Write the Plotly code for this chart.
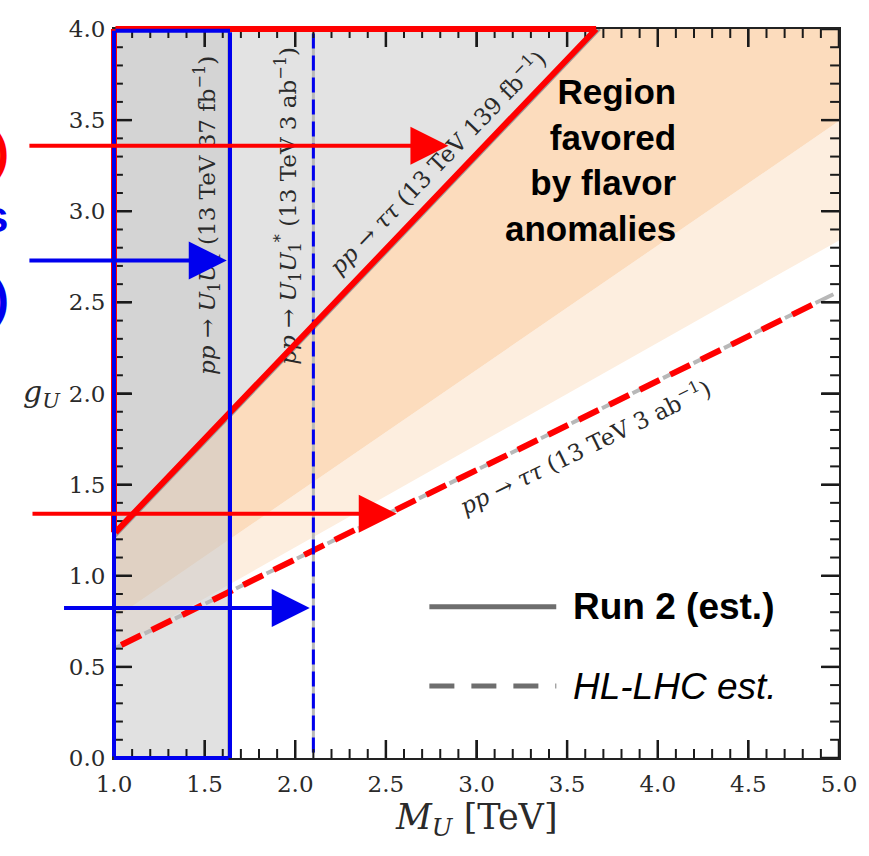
import plotly.graph_objects as go

# ---------------- data ----------------
x_range = [1.0, 5.0]
y_range = [0.0, 4.0]
x_major = [1.0, 1.5, 2.0, 2.5, 3.0, 3.5, 4.0, 4.5, 5.0]
y_major = [0.0, 0.5, 1.0, 1.5, 2.0, 2.5, 3.0, 3.5, 4.0]
minor_step = 0.1

# flavor-anomaly favoured bands (edges, straight lines in M_U)
band_M = [1.0, 5.0]
band_top_g = [4.0, 4.0]
band_dark_low_g = [0.764, 3.495]
band_light_low_g = [0.595, 2.84]

# pp -> tautau, Run 2 (139 fb-1) exclusion line
run2_tautau_M = [1.0, 3.66]
run2_tautau_g = [1.23, 4.0]
# pp -> tautau, HL-LHC (3 ab-1) projection
hl_tautau_M = [1.0, 5.0]
hl_tautau_g = [0.60, 2.56]
# red dashed highlight on the HL-LHC line
hl_highlight_M = [1.04, 4.9]
hl_highlight_g = [0.62, 2.51]

# pair production limits (vertical lines)
pair_run2_M = 1.64
pair_hl_M = 2.10
pair_hl_g = [0.03, 3.98]

# slide overlays: arrows  (colour, tail M, head M, g)
arrow_color = ["#ff0000", "#0000ee", "#ff0000", "#0000ee"]
arrow_tail_M = [0.525, 0.525, 0.542, 0.716]
arrow_head_M = [2.845, 1.622, 2.56, 2.08]
arrow_g = [3.36, 2.73, 1.34, 0.823]

# blue box around the pair-production (37 fb-1) region
blue_box_M = [1.0, 1.64]
blue_box_g = [0.0, 3.99]

# custom legend
legend_M = [2.74, 3.44]
legend_text_M = 3.521
legend_run2_g = 0.83
legend_hl_g = 0.395
legend_labels = ["<b>Run 2 (est.)</b>", "<i>HL-LHC est.</i>"]

# ---------------- layout geometry ----------------
W, H = 869, 856
ML, MR, MT, MB = 114, 22, 29, 98
px_per_x = (W - ML - MR) / (x_range[1] - x_range[0])
px_per_y = (H - MT - MB) / (y_range[1] - y_range[0])
major_len, minor_len = 18, 9

# ---------------- figure ----------------
fig = go.Figure()

def fill(xs, ys, color):
    fig.add_trace(go.Scatter(x=xs, y=ys, mode="lines", fill="toself", fillcolor=color,
                             line=dict(width=0), hoverinfo="skip", showlegend=False))

def line(xs, ys, color, width, dash="solid"):
    fig.add_trace(go.Scatter(x=xs, y=ys, mode="lines", line=dict(color=color, width=width, dash=dash),
                             hoverinfo="skip", showlegend=False))

# orange bands
fill([band_M[0], band_M[1], band_M[1], band_M[0]],
     [band_dark_low_g[0], band_dark_low_g[1], band_light_low_g[1], band_light_low_g[0]], "#fdeedf")
fill([band_M[0], band_M[1], band_M[1], band_M[0]],
     [band_top_g[0], band_top_g[1], band_dark_low_g[1], band_dark_low_g[0]], "#fcdcbd")
# excluded region above the Run 2 tautau line
fill([run2_tautau_M[0], run2_tautau_M[1], run2_tautau_M[0]],
     [run2_tautau_g[0], run2_tautau_g[1], run2_tautau_g[1]], "#e3e3e3")
# pair-production excluded region
fill([x_range[0], pair_run2_M, pair_run2_M, x_range[0]],
     [y_range[0], y_range[0], y_range[1], y_range[1]], "rgba(200,200,200,0.55)")

# gray physics lines
line([run2_tautau_M[0], run2_tautau_M[1] + 0.02], [run2_tautau_g[0] - 0.02, run2_tautau_g[1]], "#9a9a9a", 3)
line(hl_tautau_M, hl_tautau_g, "#b8b8b8", 4, "20px,14px")
line([pair_run2_M - 0.01, pair_run2_M - 0.01], y_range, "#b0b0b0", 2)
line([pair_hl_M, pair_hl_M], pair_hl_g, "#b8b8b8", 3)

# red dashed highlight / blue dashed highlight
line(hl_highlight_M, hl_highlight_g, "#ff0000", 6, "22px,12px")
line([pair_hl_M, pair_hl_M], pair_hl_g, "#0000ee", 3, "15px,7px")

# legend lines
line(legend_M, [legend_run2_g, legend_run2_g], "#6e6e6e", 5)
line(legend_M, [legend_hl_g, legend_hl_g], "#6e6e6e", 5, "25px,17px")

# inward ticks on all four sides (major every 0.5, minor every 0.1)
def frange(a, b, s):
    n = int(round((b - a) / s))
    return [round(a + i * s, 6) for i in range(n + 1)]

def tick_trace(xvals, yvals, length_px, width):
    dy = length_px / px_per_y
    dx = length_px / px_per_x
    for v in xvals:  # bottom and top
        line([v, v], [y_range[0], y_range[0] + dy], "#1a1a1a", width)
        line([v, v], [y_range[1], y_range[1] - dy], "#1a1a1a", width)
    for v in yvals:  # left and right
        line([x_range[0], x_range[0] + dx], [v, v], "#1a1a1a", width)
        line([x_range[1], x_range[1] - dx], [v, v], "#1a1a1a", width)

x_minor = [v for v in frange(x_range[0], x_range[1], minor_step) if v not in x_major]
y_minor = [v for v in frange(y_range[0], y_range[1], minor_step) if v not in y_major]
tick_trace(x_minor, y_minor, minor_len, 2)
tick_trace(x_major, y_major, major_len, 2.5)

ann = []
serif = "DejaVu Serif"
tcol = "#2a2a2a"

def txt(x, y, s, angle=0, size=23):
    ann.append(dict(x=x, y=y, xref="x", yref="y", text=s, showarrow=False, textangle=angle,
                    font=dict(family=serif, size=size, color=tcol)))

txt(1.513, 2.98, "<i>pp</i> → <i>U</i><sub>1</sub><i>U</i><sub>1</sub> (13 TeV 37 fb<sup>−1</sup>)", -90)
txt(1.96, 3.03, "<i>pp</i> → <i>U</i><sub>1</sub><i>U</i><sub>1</sub><sup>*</sup> (13 TeV 3 ab<sup>−1</sup>)", -90)
txt(2.78, 3.27, "<i>pp</i> → <i>ττ</i> (13 TeV 139 fb<sup>−1</sup>)", -46)
txt(3.60, 1.71, "<i>pp</i> → <i>ττ</i> (13 TeV 3 ab<sup>−1</sup>)", -26)

ann.append(dict(x=4.115, y=3.28, xref="x", yref="y", xanchor="right", align="right", showarrow=False,
                text="<b>Region<br>favored<br>by flavor<br>anomalies</b>",
                font=dict(family="Liberation Sans", size=35, color="#000000")))

for lab, gy in zip(legend_labels, [legend_run2_g, legend_hl_g]):
    ann.append(dict(x=legend_text_M, y=gy, xref="x", yref="y", xanchor="left", showarrow=False,
                    text=lab, font=dict(family="Liberation Sans", size=37, color="#000000")))

def seg(x0, y0, x1, y1, color, width):
    ann.append(dict(x=x1, y=y1, ax=x0, ay=y0, xref="x", yref="y", axref="x", ayref="y",
                    text="", showarrow=True, arrowhead=0, arrowwidth=width, arrowcolor=color))

# red triangle around Run 2 tautau exclusion
seg(run2_tautau_M[0], run2_tautau_g[0], run2_tautau_M[0], run2_tautau_g[1], "#ff0000", 6)
seg(run2_tautau_M[0], run2_tautau_g[1], run2_tautau_M[1], run2_tautau_g[1], "#ff0000", 6)
seg(run2_tautau_M[0], run2_tautau_g[0], run2_tautau_M[1], run2_tautau_g[1], "#ff0000", 6)

# blue box
bx0, bx1 = blue_box_M
by0, by1 = blue_box_g
seg(bx0, by0, bx0, by1, "#0000ee", 4)
seg(bx0, by1, bx1, by1, "#0000ee", 4)
seg(bx1, by1, bx1, by0, "#0000ee", 4)
seg(bx1, by0, bx0, by0, "#0000ee", 4)

# arrows
for c, t, h, g in zip(arrow_color, arrow_tail_M, arrow_head_M, arrow_g):
    ann.append(dict(x=h, y=g, ax=t, ay=g, xref="x", yref="y", axref="x", ayref="y",
                    text="", showarrow=True, arrowhead=2, arrowsize=1.9, arrowwidth=4, arrowcolor=c))

# cut-off slide glyphs at the left edge
def px2paper(p):
    return (p - ML) / (W - ML - MR)

ann.append(dict(x=px2paper(10), y=3.33, xref="paper", yref="y", xanchor="right", showarrow=False,
                text="<b>)</b>", font=dict(family="Liberation Sans", size=48, color="#ff0000")))
ann.append(dict(x=px2paper(9), y=2.97, xref="paper", yref="y", xanchor="right", showarrow=False,
                text="<b>s</b>", font=dict(family="Liberation Sans", size=44, color="#0000ee")))
ann.append(dict(x=px2paper(10), y=2.52, xref="paper", yref="y", xanchor="right", showarrow=False,
                text="<b>)</b>", font=dict(family="Liberation Sans", size=48, color="#0000ee")))

# axis titles
ann.append(dict(x=px2paper(20), y=2.0, xref="paper", yref="y", xanchor="left", showarrow=False,
                text="<i>g</i><sub><i>U</i></sub>", font=dict(family=serif, size=30, color=tcol)))
ann.append(dict(x=0.5, y=-0.085, xref="paper", yref="paper", showarrow=False, yanchor="middle",
                text="<i>M</i><sub><i>U</i></sub> [TeV]", font=dict(family=serif, size=35, color=tcol)))

axis_common = dict(showgrid=False, zeroline=False, showline=True, linecolor="#222222", linewidth=2,
                   mirror="ticks", ticks="inside", ticklen=major_len, tickwidth=2, tickcolor="#1a1a1a",
                   tickmode="array", tickformat=".1f", layer="above traces",
                   tickfont=dict(family=serif, size=23, color=tcol))

fig.update_layout(
    width=W, height=H,
    margin=dict(l=ML, r=MR, t=MT, b=MB),
    paper_bgcolor="white", plot_bgcolor="white",
    showlegend=False,
    xaxis=dict(range=x_range, tickvals=x_major, ticklabelstandoff=4, **axis_common),
    yaxis=dict(range=y_range, tickvals=y_major, ticklabelstandoff=2, **axis_common),
    annotations=ann,
)

fig.write_html("out.html")
